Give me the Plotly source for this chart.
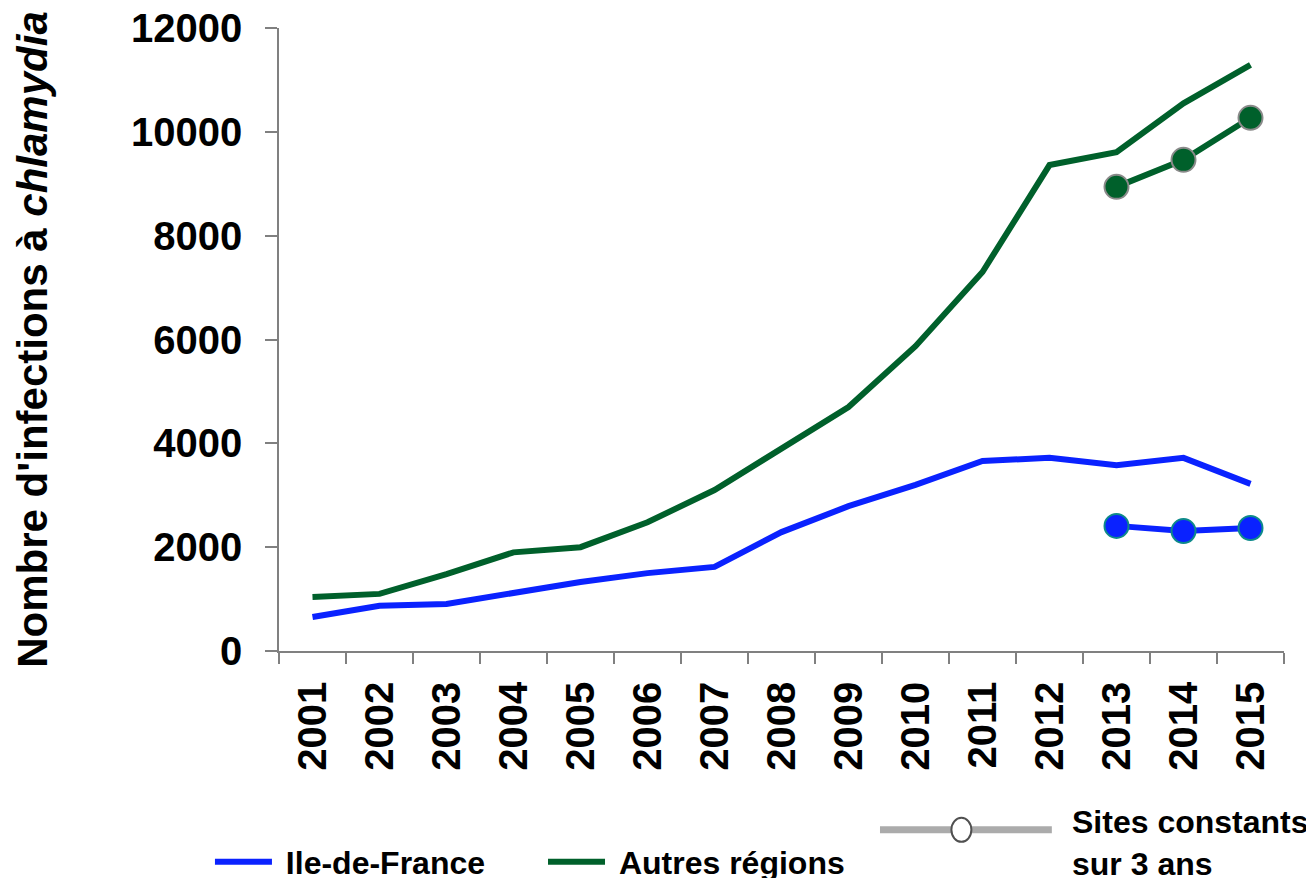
import plotly.graph_objects as go

# ---- data ----
years = [str(y) for y in range(2001, 2016)]
idf_values = [655, 870, 905, 1120, 1330, 1500, 1620, 2290, 2790, 3200, 3660, 3720, 3580, 3720, 3220]
autres_values = [1040, 1100, 1480, 1900, 2000, 2480, 3100, 3910, 4700, 5870, 7300, 9360, 9610, 10550, 11290]
const_years = ["2013", "2014", "2015"]
idf_const = [2410, 2310, 2370]
autres_const = [8940, 9460, 10270]
y_ticks = [0, 2000, 4000, 6000, 8000, 10000, 12000]

BLUE = "#0A22FF"
GREEN = "#00602B"
FONT = "Liberation Sans"
PAD = "\u00a0"

fig = go.Figure()
fig.add_trace(go.Scatter(x=years, y=idf_values, mode="lines", name=PAD + "Ile-de-France",
                         line=dict(color=BLUE, width=6), legend="legend"))
fig.add_trace(go.Scatter(x=years, y=autres_values, mode="lines", name=PAD + "Autres régions",
                         line=dict(color=GREEN, width=6), legend="legend2"))
fig.add_trace(go.Scatter(x=const_years, y=idf_const, mode="lines+markers", showlegend=False,
                         line=dict(color=BLUE, width=6),
                         marker=dict(size=24, color=BLUE, line=dict(color="#0E8A8A", width=2))))
fig.add_trace(go.Scatter(x=const_years, y=autres_const, mode="lines+markers", showlegend=False,
                         line=dict(color=GREEN, width=6),
                         marker=dict(size=24, color=GREEN, line=dict(color="#8A8A8A", width=2))))

# custom legend key for "Sites constants sur 3 ans"
ly = -0.287
fig.add_shape(type="line", xref="paper", yref="paper", x0=0.598, x1=0.769, y0=ly, y1=ly,
              line=dict(color="#ABABAB", width=7))
fig.add_shape(type="circle", xref="paper", yref="paper", xsizemode="pixel", ysizemode="pixel",
              xanchor=0.679, yanchor=ly, x0=-10, x1=10, y0=-12, y1=12,
              fillcolor="white", line=dict(color="#505050", width=2))
fig.add_annotation(xref="paper", yref="paper", x=0.787, y=-0.308, xanchor="left", yanchor="middle",
                   text="Sites constants<br>sur 3 ans", showarrow=False, align="left",
                   font=dict(family=FONT, size=32, color="black", weight="bold"))

legend_font = dict(family=FONT, size=32, color="black", weight="bold")
fig.update_layout(
    width=1314, height=878,
    margin=dict(l=271, r=38, t=20, b=235, autoexpand=False),
    plot_bgcolor="white", paper_bgcolor="white",
    font=dict(family=FONT, color="black", weight="bold"),
    legend=dict(orientation="h", x=-0.0687, y=-0.3387, xanchor="left", yanchor="middle",
                font=legend_font, itemwidth=57, bgcolor="rgba(0,0,0,0)"),
    legend2=dict(orientation="h", x=0.2627, y=-0.3387, xanchor="left", yanchor="middle",
                 font=legend_font, itemwidth=57, bgcolor="rgba(0,0,0,0)"),
    xaxis=dict(type="category", categoryorder="array", categoryarray=years,
               tickangle=-90, ticks="outside", tickson="boundaries", ticklen=11,
               tickcolor="#808080", tickwidth=1.5,
               showline=True, linecolor="#808080", linewidth=1.5,
               showgrid=False, zeroline=False, ticklabelstandoff=13,
               tickfont=dict(family=FONT, size=40, color="black", weight="bold"),
               range=[-0.5, 14.5], fixedrange=True),
    yaxis=dict(range=[0, 12000], tickvals=y_ticks, tickformat="d", ticks="outside", ticklen=12,
               tickcolor="#808080", tickwidth=1.5, ticklabeloverflow="allow",
               showline=True, linecolor="#808080", linewidth=1.5,
               showgrid=False, zeroline=False, ticklabelstandoff=15,
               tickfont=dict(family=FONT, size=40, color="black", weight="bold"),
               title=dict(text="Nombre d'infections à <i>chlamydia</i>", standoff=70,
                          font=dict(family=FONT, size=42, color="black", weight="bold")),
               automargin=False),
)

fig.write_html("out.html")
